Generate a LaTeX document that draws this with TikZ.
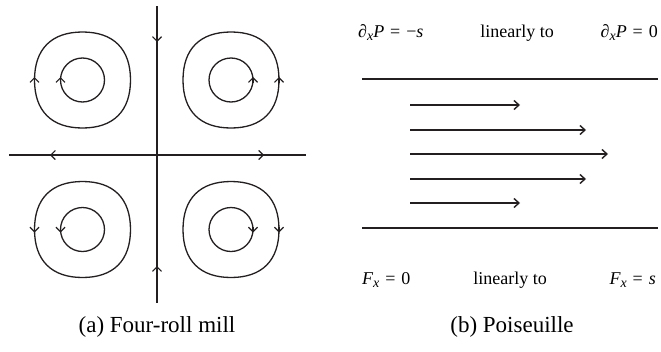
\documentclass[tikz,border=0pt]{standalone}
\usepackage{fontspec}
\setmainfont{Liberation Serif}
\usetikzlibrary{arrows.meta}
\definecolor{ink}{HTML}{231F20}
\newcommand{\subx}{\raisebox{-0.4ex}{\fontsize{14}{14}\selectfont\itshape x}}
\newcommand{\eqsp}{\hspace{0.33em}}
\begin{document}
\begin{tikzpicture}[x=1pt,y=-1pt,
  axisline/.style={draw=ink,line width=1.8pt},
  streamline/.style={draw=ink,line width=1.3pt},
  flowline/.style={draw=ink,line width=1.7pt},
  vtip/.style={-{Straight Barb[length=4.5pt,width=9pt,line width=1.2pt]}},
  ftip/.style={-{Straight Barb[length=5pt,width=9pt,line width=1.4pt]}},
  lbl/.style={inner sep=0pt,font=\fontsize{18}{20}\selectfont},
  captxt/.style={inner sep=0pt,font=\fontsize{23}{26}\selectfont}]
\useasboundingbox (0,0) rectangle (661,351);

% ---------- (a) Four-roll mill ----------
\coordinate (vt) at (157,6);
\coordinate (vb) at (157,303);
\coordinate (hl) at (9,155);
\coordinate (hr) at (306,155);
\draw[axisline] (vt) -- (vb);
\draw[axisline] (hl) -- (hr);
% axis arrowheads
\coordinate (a1s) at (157,36); \coordinate (a1e) at (157,42);
\coordinate (a2s) at (157,272); \coordinate (a2e) at (157,266);
\coordinate (a3s) at (56,155); \coordinate (a3e) at (50,155);
\coordinate (a4s) at (258,155); \coordinate (a4e) at (264,155);
\draw[axisline,line width=1.3pt,vtip] (a1s) -- (a1e);
\draw[axisline,line width=1.3pt,vtip] (a2s) -- (a2e);
\draw[axisline,line width=1.3pt,vtip] (a3s) -- (a3e);
\draw[axisline,line width=1.3pt,vtip] (a4s) -- (a4e);

% vortices: centre x, centre y, side (-1 left,+1 right), direction (-1 up,+1 down)
\foreach \cx/\cy/\sd/\dr in {82.5/80/-1/-1, 231/80/1/-1, 82.5/229.5/-1/1, 231/229.5/1/1}{
  \begin{scope}[shift={(\cx,\cy)}]
    \draw[streamline] (48,0) .. controls (48,31) and (31,48) .. (0,48)
      .. controls (-31,48) and (-48,31) .. (-48,0)
      .. controls (-48,-31) and (-31,-48) .. (0,-48)
      .. controls (31,-48) and (48,-31) .. (48,0) -- cycle;
    \draw[streamline] (0,0) circle[radius=22];
    \draw[streamline,vtip] (\sd*48,-3*\dr) -- (\sd*48,3*\dr);
    \draw[streamline,vtip] (\sd*22,-3*\dr) -- (\sd*22,3*\dr);
  \end{scope}
}
\node[captxt,anchor=base] (capa) at (157,332) {(a) Four-roll mill};

% ---------- (b) Poiseuille ----------
\coordinate (wt1) at (362,79);
\coordinate (wt2) at (658,79);
\coordinate (wb1) at (362,228);
\coordinate (wb2) at (658,228);
\draw[flowline] (wt1) -- (wt2);
\draw[flowline] (wb1) -- (wb2);
\foreach \yy/\xe [count=\i] in {105/520, 130/586, 154/608, 179/586, 203/520}{
  \coordinate (fs\i) at (410,\yy);
  \coordinate (fe\i) at (\xe,\yy);
  \draw[flowline,ftip] (fs\i) -- (fe\i);
}
\node[lbl,anchor=base west] (ptop1) at (358,37) {\textit{∂\subx P}\eqsp=\eqsp−\textit{s}};
\node[lbl,anchor=base] (ltop) at (517,37) {linearly to};
\node[lbl,anchor=base east] (ptop2) at (658,37) {\textit{∂\subx P}\eqsp=\eqsp0};
\node[lbl,anchor=base west] (fbot1) at (362,284) {\textit{F\subx}\eqsp=\eqsp0};
\node[lbl,anchor=base] (lbot) at (510,284) {linearly to};
\node[lbl,anchor=base east] (fbot2) at (656,284) {\textit{F\subx}\eqsp=\eqsp\textit{s}};
\node[captxt,anchor=base] (capb) at (512,332) {(b) Poiseuille};
\end{tikzpicture}
\end{document}
